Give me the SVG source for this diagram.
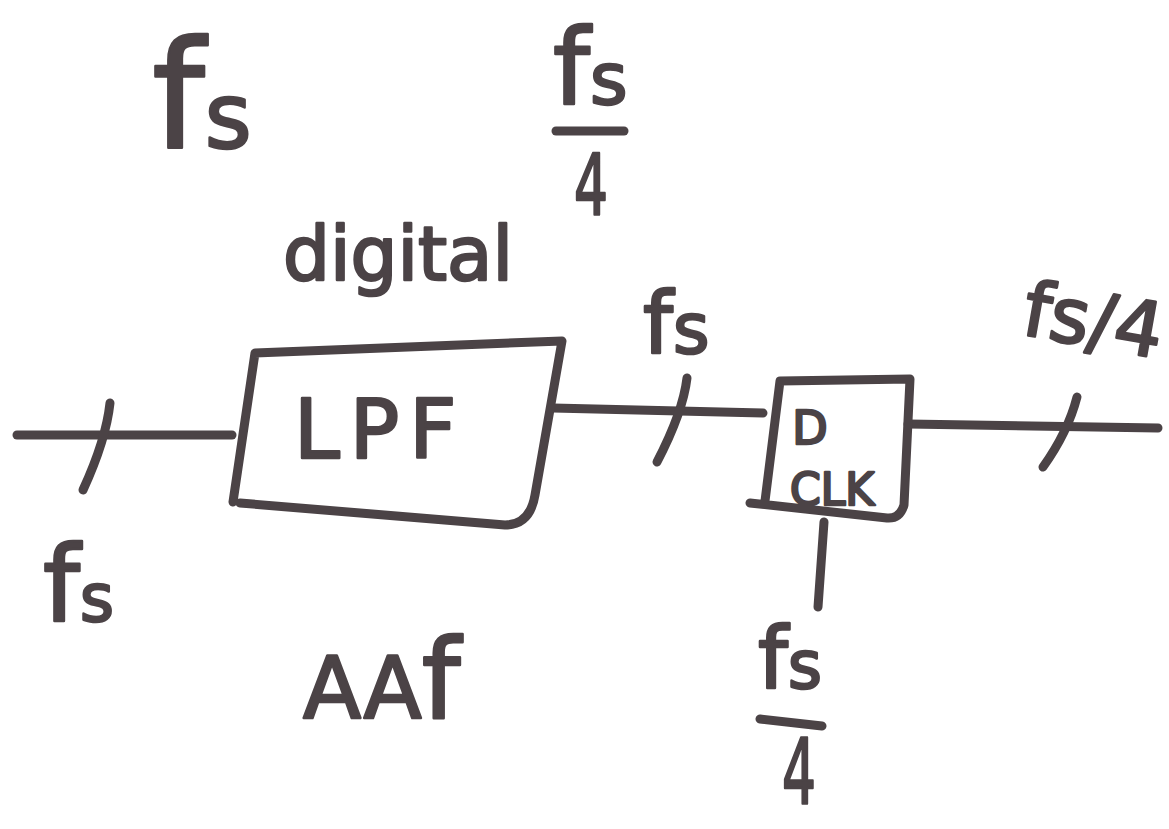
<svg xmlns="http://www.w3.org/2000/svg" width="1169" height="829" viewBox="0 0 1169 829">
<style>
.ink{fill:none;stroke:#4b4346;stroke-width:9;stroke-linecap:round;stroke-linejoin:round}
.t{font-family:"DejaVu Sans","Liberation Sans",sans-serif;fill:#4b4346;stroke:#4b4346;stroke-width:2.5;stroke-linejoin:round}
</style>
<rect width="1169" height="829" fill="#ffffff"/>
<g id="connectors">
  <path class="ink" d="M17,435 L232,435"/>
  <path class="ink" d="M110,403 Q106,440 83,490"/>
  <path class="ink" d="M553,408 L763,413"/>
  <path class="ink" d="M687,378 Q683,412 657,462"/>
  <path class="ink" d="M908,424 L1158,428"/>
  <path class="ink" d="M1077,397 Q1068,432 1043,467"/>
  <path class="ink" d="M824,522 L818,607"/>
</g>
<g id="lpf">
  <path class="ink" d="M255,353 L562,341 L535,495 Q530,525 505,525 L240,503 M233,502 L255,353"/>
  <text class="t" x="294" y="458" font-size="82" letter-spacing="10">LPF</text>
</g>
<g id="dclk">
  <path class="ink" d="M765,501 L780,381 L910,379 L904,505 Q900,519 887,518 L750,503"/>
  <text class="t" x="810" y="444" font-size="46" text-anchor="middle">D</text>
  <text class="t" x="790" y="505" font-size="44">CLK</text>
</g>
<g id="label-digital">
  <text class="t" x="283" y="280" font-size="74">digital</text>
</g>
<g id="label-fs-topleft">
  <text class="t" x="152" y="148"><tspan font-size="150">f</tspan><tspan font-size="90">s</tspan></text>
</g>
<g id="label-fs4-top">
  <text class="t" x="553" y="104"><tspan font-size="105">f</tspan><tspan font-size="72">s</tspan></text>
  <path class="ink" d="M556,131 L624,131"/>
  <text class="t" x="574" y="214" font-size="84" textLength="34" lengthAdjust="spacingAndGlyphs">4</text>
</g>
<g id="label-fs-mid">
  <text class="t" x="643" y="353"><tspan font-size="85">f</tspan><tspan font-size="70">s</tspan></text>
</g>
<g id="label-fs4-right">
  <text class="t" transform="translate(1020,334) rotate(10)" font-size="76">fs/4</text>
</g>
<g id="label-fs4-bottom">
  <text class="t" x="758" y="688"><tspan font-size="85">f</tspan><tspan font-size="65">s</tspan></text>
  <path class="ink" d="M760,719 L822,726"/>
  <text class="t" x="782" y="804" font-size="90" textLength="34" lengthAdjust="spacingAndGlyphs">4</text>
</g>
<g id="label-fs-bottomleft">
  <text class="t" x="43" y="621"><tspan font-size="105">f</tspan><tspan font-size="65">s</tspan></text>
</g>
<g id="label-aaf">
  <text class="t" x="303" y="718" font-size="85">AA<tspan font-size="110">f</tspan></text>
</g>
</svg>
